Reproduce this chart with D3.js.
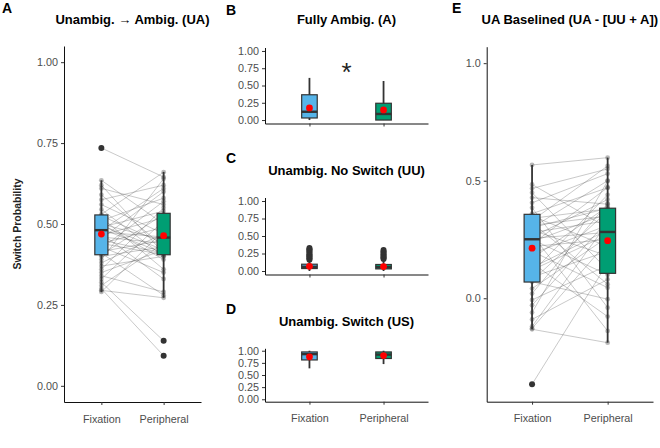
<!DOCTYPE html>
<html>
<head>
<meta charset="utf-8">
<script src="https://cdn.jsdelivr.net/npm/d3@7/dist/d3.min.js"></script>
<style>
  body { margin: 0; background: #fff; }
  svg { font-family: "Liberation Sans", Arial, sans-serif; }
</style>
</head>
<body>
<svg id="chart" width="660" height="448"></svg>
<script>
// conditions and colours
const conditions = ["Fixation", "Peripheral"];
const fills = ["#56B4E9", "#009E73"];

// Panel A: per-subject switch probability (UA), paired fixation / peripheral
const uaFixation = [0.735, 0.635, 0.62, 0.61, 0.59, 0.575, 0.56, 0.545, 0.53, 0.525, 0.52, 0.51, 0.50, 0.495,
  0.49, 0.485, 0.48, 0.475, 0.47, 0.465, 0.46, 0.455, 0.45, 0.44, 0.43, 0.425, 0.415, 0.41, 0.405, 0.40,
  0.39, 0.38, 0.37, 0.36, 0.35, 0.34, 0.33, 0.32, 0.31, 0.30, 0.295, 0.29, 0.50, 0.44];
const uaPeripheral = [0.645, 0.50, 0.41, 0.56, 0.43, 0.62, 0.47, 0.40, 0.66, 0.44, 0.36, 0.58, 0.45, 0.42,
  0.54, 0.41, 0.61, 0.46, 0.33, 0.52, 0.44, 0.60, 0.41, 0.49, 0.35, 0.57, 0.45, 0.28, 0.53, 0.43,
  0.64, 0.47, 0.40, 0.55, 0.42, 0.29, 0.51, 0.139, 0.44, 0.093, 0.272, 0.48, 0.39, 0.405];
// box stats: [lower whisker, q1, median, q3, upper whisker]
const uaBoxes = [[0.29, 0.405, 0.481, 0.528, 0.635], [0.272, 0.405, 0.458, 0.533, 0.661]];
const uaMeans = [0.469, 0.464];
const uaOutliers = [[0.735], [0.139, 0.093]];

// Panel B: fully ambiguous (A)
const aBoxes = [[0.0, 0.03, 0.12, 0.366, 0.61], [0.0, 0.0, 0.088, 0.243, 0.565]];
const aMeans = [0.175, 0.146];
const aOutliers = [[], []];

// Panel C: unambiguous no switch (UU)
const uuBoxes = [[0.0, 0.035, 0.06, 0.097, 0.15], [0.0, 0.03, 0.055, 0.093, 0.15]];
const uuMeans = [0.067, 0.063];
const uuOutliers = [[0.16, 0.18, 0.19, 0.21, 0.22, 0.24, 0.26, 0.28, 0.30, 0.31, 0.33],
  [0.17, 0.19, 0.20, 0.22, 0.24, 0.26, 0.28, 0.30]];

// Panel D: unambiguous switch (US)
const usBoxes = [[0.637, 0.81, 0.93, 0.975, 1.0], [0.725, 0.84, 0.92, 0.975, 1.0]];
const usMeans = [0.875, 0.90];
const usOutliers = [[], []];

// Panel E: UA baselined, per subject
const baseFixation = [0.567, 0.484, 0.467, 0.449, 0.428, 0.406, 0.385, 0.36, 0.35, 0.34, 0.33, 0.32, 0.31,
  0.30, 0.29, 0.28, 0.27, 0.26, 0.255, 0.25, 0.24, 0.23, 0.22, 0.20, 0.19, 0.17, 0.15, 0.13, 0.11, 0.09,
  0.075, 0.07, 0.041, 0.02, -0.007, -0.03, -0.061, -0.09, -0.12, -0.132, -0.128, -0.366, 0.30, 0.12];
const basePeripheral = [0.598, 0.30, 0.55, 0.12, 0.40, 0.53, -0.04, 0.47, 0.22, 0.38, 0.563, 0.06, 0.35,
  0.50, 0.18, 0.33, -0.139, 0.42, 0.28, 0.10, 0.36, 0.471, 0.25, 0.045, 0.31, 0.39, -0.078, 0.29, 0.44, 0.20,
  0.37, -0.004, 0.26, 0.403, 0.14, 0.33, 0.499, 0.08, 0.32, -0.189, 0.24, 0.15, 0.383, 0.27];
const baseBoxes = [[-0.132, 0.069, 0.251, 0.357, 0.567], [-0.189, 0.106, 0.282, 0.383, 0.598]];
const baseMeans = [0.213, 0.245];
const baseOutliers = [[-0.366], []];

const ticks01 = [0, 0.25, 0.5, 0.75, 1];
const ticksBase = [0, 0.5, 1];

const svg = d3.select("#chart");

const panels = [
  {letter: "A", title: "Unambig. \u2192 Ambig. (UA)", x0: 64, x1: 201, y0: 46, y1: 402, domain: [-0.05, 1.05],
   ticks: ticks01, fmt: ".2f", boxes: uaBoxes, means: uaMeans, outliers: uaOutliers,
   pairs: [uaFixation, uaPeripheral], xLabels: true, letterY: 13, titleY: 24, ylab: true},
  {letter: "B", title: "Fully Ambig. (A)", x0: 265, x1: 428, y0: 47.5, y1: 123.5, domain: [-0.05, 1.05],
   ticks: ticks01, fmt: ".2f", boxes: aBoxes, means: aMeans, outliers: aOutliers,
   xLabels: false, letterY: 15, titleY: 24, star: true},
  {letter: "C", title: "Unambig. No Switch (UU)", x0: 265, x1: 428, y0: 197.5, y1: 274.5, domain: [-0.05, 1.05],
   ticks: ticks01, fmt: ".2f", boxes: uuBoxes, means: uuMeans, outliers: uuOutliers,
   xLabels: false, letterY: 163, titleY: 174.5},
  {letter: "D", title: "Unambig. Switch (US)", x0: 265, x1: 428, y0: 348.3, y1: 401.7, domain: [-0.05, 1.05],
   ticks: ticks01, fmt: ".2f", boxes: usBoxes, means: usMeans, outliers: usOutliers,
   xLabels: true, letterY: 314, titleY: 326},
  {letter: "E", title: "UA Baselined (UA - [UU + A])", x0: 486.7, x1: 653, y0: 46.7, y1: 401.7, domain: [-0.44, 1.07],
   ticks: ticksBase, fmt: ".1f", boxes: baseBoxes, means: baseMeans, outliers: baseOutliers,
   pairs: [baseFixation, basePeripheral], xLabels: true, letterY: 13, titleY: 24}
];

function drawPanel(p) {
  const x = d3.scalePoint().domain(conditions).range([p.x0, p.x1]).padding(0.6);
  const y = d3.scaleLinear().domain(p.domain).range([p.y1, p.y0]);
  const g = svg.append("g");
  const bw = x.step() * 0.21;

  // subject lines and points
  if (p.pairs) {
    const [a, b] = p.pairs;
    g.append("g").selectAll("line").data(a).enter().append("line")
      .attr("x1", x(conditions[0])).attr("x2", x(conditions[1]))
      .attr("y1", d => y(d)).attr("y2", (d, i) => y(b[i]))
      .attr("stroke", "#444").attr("stroke-opacity", 0.32).attr("stroke-width", 0.9);
    p.pairs.forEach((vals, ci) => {
      g.append("g").selectAll("circle").data(vals).enter().append("circle")
        .attr("cx", x(conditions[ci])).attr("cy", d => y(d)).attr("r", 2.4)
        .attr("fill", "#444").attr("fill-opacity", 0.38);
    });
  }

  conditions.forEach((c, i) => {
    const b = p.boxes[i];
    const cx = x(c);
    g.append("line").attr("x1", cx).attr("x2", cx).attr("y1", y(b[0])).attr("y2", y(b[4]))
      .attr("stroke", "#333").attr("stroke-width", 1.8);
    g.append("rect").attr("x", cx - bw / 2).attr("y", y(b[3]))
      .attr("width", bw).attr("height", y(b[1]) - y(b[3]))
      .attr("fill", fills[i]).attr("stroke", "#333").attr("stroke-width", 1.2);
    g.append("line").attr("x1", cx - bw / 2).attr("x2", cx + bw / 2).attr("y1", y(b[2])).attr("y2", y(b[2]))
      .attr("stroke", "#333").attr("stroke-width", 2.4);
    g.append("g").selectAll("circle").data(p.outliers[i]).enter().append("circle")
      .attr("cx", cx).attr("cy", d => y(d)).attr("r", 3).attr("fill", "#333");
    g.append("circle").attr("cx", cx).attr("cy", y(p.means[i])).attr("r", 3.4).attr("fill", "#FF0000");
  });

  // axes
  const yAxis = d3.axisLeft(y).tickValues(p.ticks).tickFormat(d3.format(p.fmt))
    .tickSize(3).tickPadding(3).tickSizeOuter(0);
  const xAxis = d3.axisBottom(x).tickSize(3).tickPadding(10).tickSizeOuter(0)
    .tickFormat(d => p.xLabels ? d : "");
  const ya = g.append("g").attr("transform", "translate(" + p.x0 + ",0)").call(yAxis);
  const xa = g.append("g").attr("transform", "translate(0," + p.y1 + ")").call(xAxis);
  [ya, xa].forEach(ax => {
    ax.select(".domain").attr("stroke", "#111").attr("stroke-width", 1);
    ax.selectAll(".tick line").attr("stroke", "#333");
    ax.selectAll(".tick text").attr("fill", "#4d4d4d").style("font-size", "10.8px");
  });

  // panel letter and title
  const left = p.letter === "A" ? 2 : (p.letter === "E" ? 452 : 226);
  svg.append("text").attr("x", left).attr("y", p.letterY).text(p.letter)
    .style("font-size", "14px").style("font-weight", "bold");
  svg.append("text").attr("x", (p.x0 + p.x1) / 2).attr("y", p.titleY).attr("text-anchor", "middle")
    .text(p.title).style("font-size", "13px").style("font-weight", "bold");

  if (p.ylab) {
    svg.append("text").attr("transform", "translate(21," + (p.y0 + p.y1) / 2 + ") rotate(-90)")
      .attr("text-anchor", "middle").text("Switch Probability")
      .style("font-size", "10.5px").style("font-weight", "bold").attr("fill", "#222");
  }
  if (p.star) {
    svg.append("text").attr("x", (p.x0 + p.x1) / 2).attr("y", 81).attr("text-anchor", "middle")
      .text("*").style("font-size", "26px").attr("fill", "#222");
  }
}

panels.forEach(drawPanel);
</script>
</body>
</html>
